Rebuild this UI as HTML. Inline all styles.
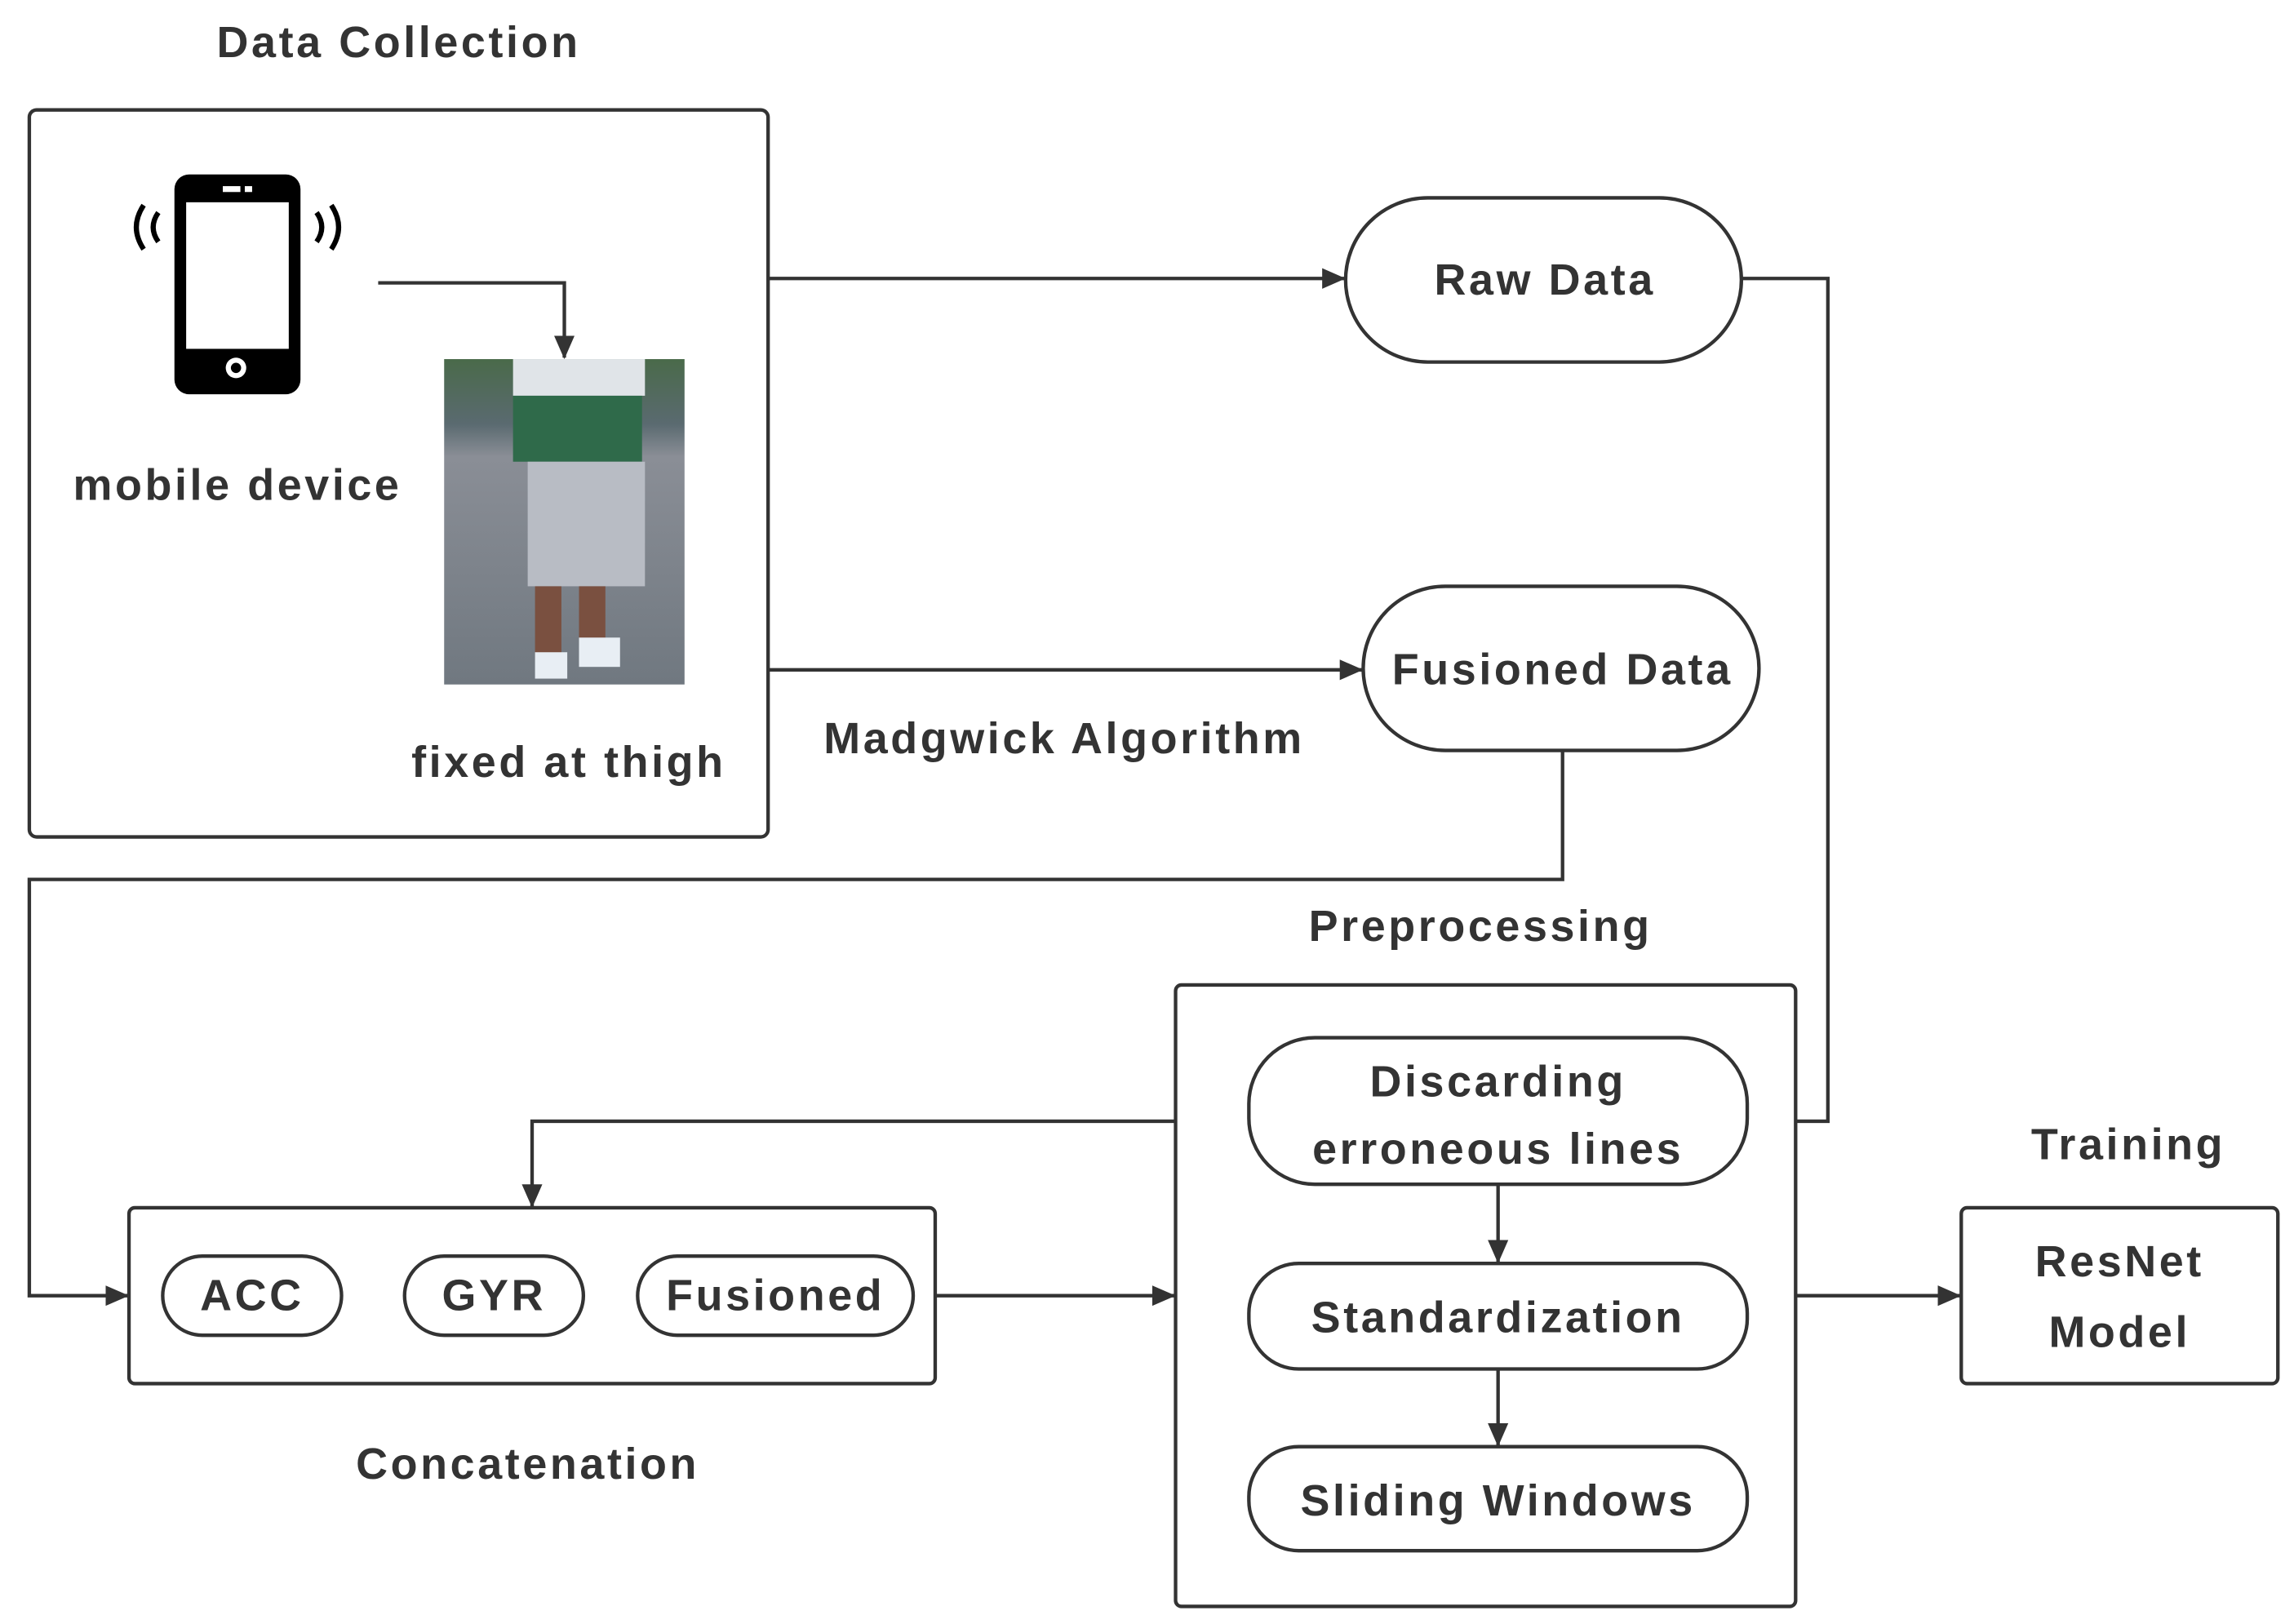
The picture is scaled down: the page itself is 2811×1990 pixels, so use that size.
<!DOCTYPE html>
<html><head><meta charset="utf-8"><style>
html,body{margin:0;padding:0;background:#fff;}
svg{display:block}
text{font-family:"Liberation Sans",sans-serif;font-weight:bold;fill:#333;text-anchor:middle;dominant-baseline:middle;font-size:30px;letter-spacing:2px;}
</style></head><body>
<svg width="2811" height="1990" viewBox="0 0 1565 1108" preserveAspectRatio="none" xmlns="http://www.w3.org/2000/svg">
<defs>
<marker id="a" markerWidth="16" markerHeight="14" refX="15" refY="7" orient="auto" markerUnits="userSpaceOnUse">
<path d="M0,0 L16,7 L0,14 Z" fill="#333"/></marker>
<linearGradient id="g" x1="0" y1="0" x2="0" y2="1">
<stop offset="0" stop-color="#4a6a4a"/><stop offset="0.2" stop-color="#5a6a70"/><stop offset="0.3" stop-color="#8a8e96"/><stop offset="1" stop-color="#707880"/></linearGradient>
</defs>
<g fill="none" stroke="#333" stroke-width="2.4">
<rect x="20" y="75" width="504" height="496" rx="5"/>
<rect x="918" y="135" width="270" height="112" rx="56"/>
<rect x="930" y="400" width="270" height="112" rx="56"/>
<rect x="802" y="672" width="423" height="424" rx="4"/>
<rect x="852" y="708" width="340" height="100" rx="45"/>
<rect x="852" y="862" width="340" height="72" rx="34"/>
<rect x="852" y="987" width="340" height="71" rx="34"/>
<rect x="88" y="824" width="550" height="120" rx="4"/>
<rect x="111" y="857" width="122" height="54" rx="27"/>
<rect x="276" y="857" width="122" height="54" rx="27"/>
<rect x="435" y="857" width="188" height="54" rx="27"/>
<rect x="1338" y="824" width="216" height="120" rx="4"/>
<path d="M258,193 H385 V244" marker-end="url(#a)"/>
<path d="M524,190 H917" marker-end="url(#a)"/>
<path d="M1188,190 H1247 V765 H1225"/>
<path d="M524,457 H929" marker-end="url(#a)"/>
<path d="M1066,512 V600 H20 V884 H87" marker-end="url(#a)"/>
<path d="M802,765 H363 V823" marker-end="url(#a)"/>
<path d="M1022,808 V861" marker-end="url(#a)"/>
<path d="M1022,934 V986" marker-end="url(#a)"/>
<path d="M638,884 H801" marker-end="url(#a)"/>
<path d="M1225,884 H1337" marker-end="url(#a)"/>
</g>
<rect x="119" y="119" width="86" height="150" rx="10" fill="#000"/>
<rect x="127" y="138" width="70" height="100" fill="#fff"/>
<circle cx="161" cy="251" r="7" fill="#fff"/><circle cx="161" cy="251" r="3.5" fill="#000"/>
<rect x="152" y="127" width="12" height="4" fill="#fff"/><rect x="167" y="127" width="5" height="4" fill="#fff"/>
<g fill="none" stroke="#000" stroke-width="3.5">
<path d="M98,140 Q88,155 98,170"/><path d="M108,145 Q101,155 108,165"/>
<path d="M226,140 Q236,155 226,170"/><path d="M216,145 Q223,155 216,165"/>
</g>
<rect x="303" y="245" width="164" height="222" fill="url(#g)"/>
<rect x="350" y="245" width="90" height="25" fill="#e0e4e8"/>
<rect x="350" y="270" width="88" height="45" fill="#2f6a4a"/>
<rect x="360" y="315" width="80" height="85" fill="#b8bcc4"/>
<rect x="365" y="400" width="18" height="50" fill="#7a5040"/><rect x="395" y="400" width="18" height="40" fill="#7a5040"/>
<rect x="365" y="445" width="22" height="18" fill="#e8eef4"/><rect x="395" y="435" width="28" height="20" fill="#e8eef4"/>
<text x="272" y="31">Data Collection</text>
<text x="162" y="333">mobile device</text>
<text x="388" y="522">fixed at thigh</text>
<text x="1054" y="193">Raw Data</text>
<text x="1066" y="459">Fusioned Data</text>
<text x="726" y="506">Madgwick Algorithm</text>
<text x="1010" y="634">Preprocessing</text>
<text x="1022" y="740">Discarding</text>
<text x="1022" y="786">erroneous lines</text>
<text x="1022" y="901">Standardization</text>
<text x="1022" y="1026">Sliding Windows</text>
<text x="172" y="886">ACC</text>
<text x="337" y="886">GYR</text>
<text x="529" y="886">Fusioned</text>
<text x="360" y="1001">Concatenation</text>
<text x="1452" y="783">Training</text>
<text x="1446" y="863">ResNet</text>
<text x="1446" y="911">Model</text>
</svg>
</body></html>
